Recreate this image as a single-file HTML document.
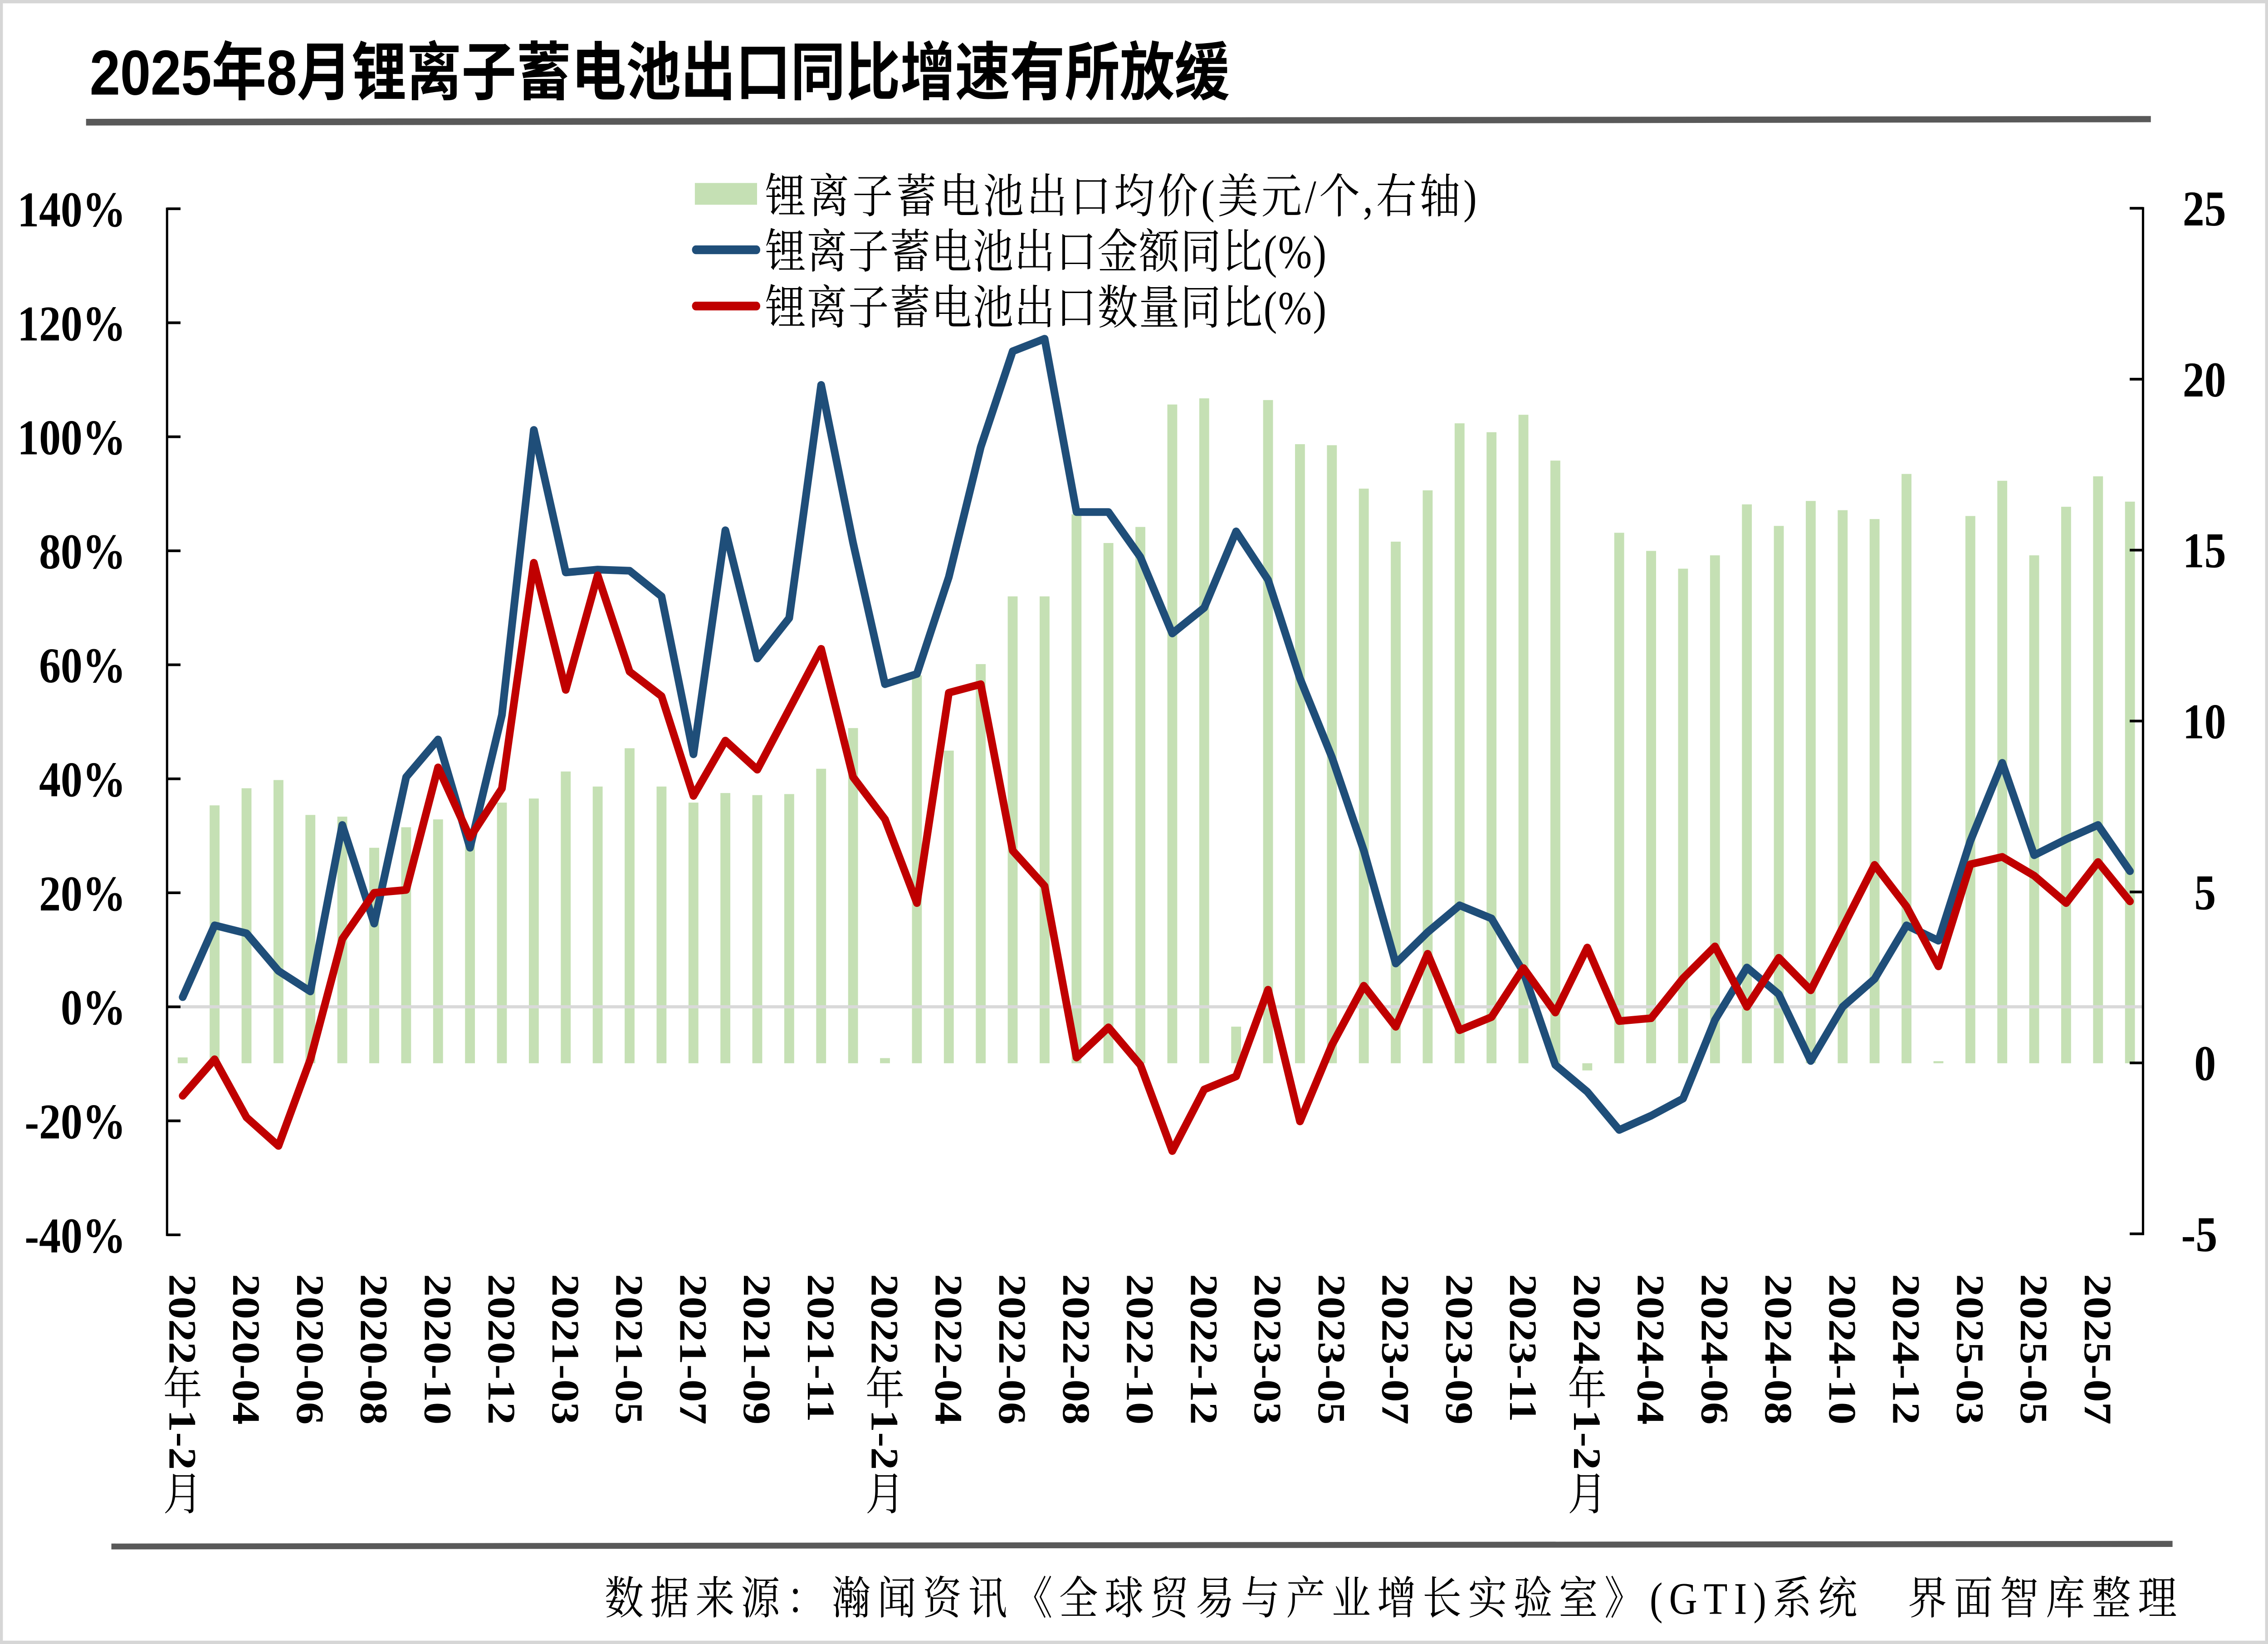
<!DOCTYPE html>
<html><head><meta charset="utf-8">
<style>
html,body{margin:0;padding:0;width:100%;height:100%;overflow:hidden;background:#fff;}
svg{display:block;position:fixed;left:0;top:0;width:100vw;height:100vh;}
</style></head><body>
<svg viewBox="0 0 1568 982" preserveAspectRatio="none" xmlns="http://www.w3.org/2000/svg">
<rect x="0" y="0" width="1568" height="982" fill="#fff"/>
<rect x="1" y="1" width="1566" height="980" fill="none" stroke="#d6d6d6" stroke-width="2"/>

<!-- title -->
<text x="62" y="56.5" font-family="'Liberation Sans','Noto Sans CJK SC',sans-serif" font-weight="bold" font-size="38" textLength="788" lengthAdjust="spacing" fill="#000">2025年8月锂离子蓄电池出口同比增速有所放缓</text>
<polygon points="59.5,71 1487,69.3 1487,73 59.5,75" fill="#595959"/>

<!-- bars -->
<g transform="translate(126.3,635.1) scale(22.07,-20.43)" fill="#C5E0B4">
<rect x="-0.155" y="0" width="0.31" height="0.17"/>
<rect x="0.845" y="0" width="0.31" height="7.54"/>
<rect x="1.845" y="0" width="0.31" height="8.04"/>
<rect x="2.845" y="0" width="0.31" height="8.28"/>
<rect x="3.845" y="0" width="0.31" height="7.26"/>
<rect x="4.845" y="0" width="0.31" height="7.21"/>
<rect x="5.845" y="0" width="0.31" height="6.30"/>
<rect x="6.845" y="0" width="0.31" height="6.90"/>
<rect x="7.845" y="0" width="0.31" height="7.13"/>
<rect x="8.845" y="0" width="0.31" height="6.5"/>
<rect x="9.845" y="0" width="0.31" height="7.62"/>
<rect x="10.845" y="0" width="0.31" height="7.74"/>
<rect x="11.845" y="0" width="0.31" height="8.53"/>
<rect x="12.845" y="0" width="0.31" height="8.09"/>
<rect x="13.845" y="0" width="0.31" height="9.21"/>
<rect x="14.845" y="0" width="0.31" height="8.09"/>
<rect x="15.845" y="0" width="0.31" height="7.62"/>
<rect x="16.845" y="0" width="0.31" height="7.90"/>
<rect x="17.845" y="0" width="0.31" height="7.84"/>
<rect x="18.845" y="0" width="0.31" height="7.87"/>
<rect x="19.845" y="0" width="0.31" height="8.61"/>
<rect x="20.845" y="0" width="0.31" height="9.80"/>
<rect x="21.845" y="0" width="0.31" height="0.15"/>
<rect x="22.845" y="0" width="0.31" height="11.34"/>
<rect x="23.845" y="0" width="0.31" height="9.14"/>
<rect x="24.845" y="0" width="0.31" height="11.67"/>
<rect x="25.845" y="0" width="0.31" height="13.65"/>
<rect x="26.845" y="0" width="0.31" height="13.65"/>
<rect x="27.845" y="0" width="0.31" height="16.05"/>
<rect x="28.845" y="0" width="0.31" height="15.21"/>
<rect x="29.845" y="0" width="0.31" height="15.68"/>
<rect x="30.845" y="0" width="0.31" height="19.26"/>
<rect x="31.845" y="0" width="0.31" height="19.44"/>
<rect x="32.845" y="0" width="0.31" height="1.07"/>
<rect x="33.845" y="0" width="0.31" height="19.39"/>
<rect x="34.845" y="0" width="0.31" height="18.10"/>
<rect x="35.845" y="0" width="0.31" height="18.07"/>
<rect x="36.845" y="0" width="0.31" height="16.80"/>
<rect x="37.845" y="0" width="0.31" height="15.25"/>
<rect x="38.845" y="0" width="0.31" height="16.75"/>
<rect x="39.845" y="0" width="0.31" height="18.71"/>
<rect x="40.845" y="0" width="0.31" height="18.45"/>
<rect x="41.845" y="0" width="0.31" height="18.96"/>
<rect x="42.845" y="0" width="0.31" height="17.62"/>
<rect x="43.845" y="-0.21" width="0.31" height="0.21"/>
<rect x="44.845" y="0" width="0.31" height="15.51"/>
<rect x="45.845" y="0" width="0.31" height="14.98"/>
<rect x="46.845" y="0" width="0.31" height="14.46"/>
<rect x="47.845" y="0" width="0.31" height="14.85"/>
<rect x="48.845" y="0" width="0.31" height="16.34"/>
<rect x="49.845" y="0" width="0.31" height="15.71"/>
<rect x="50.845" y="0" width="0.31" height="16.44"/>
<rect x="51.845" y="0" width="0.31" height="16.17"/>
<rect x="52.845" y="0" width="0.31" height="15.91"/>
<rect x="53.845" y="0" width="0.31" height="17.23"/>
<rect x="54.845" y="0" width="0.31" height="0.06"/>
<rect x="55.845" y="0" width="0.31" height="16.00"/>
<rect x="56.845" y="0" width="0.31" height="17.03"/>
<rect x="57.845" y="0" width="0.31" height="14.85"/>
<rect x="58.845" y="0" width="0.31" height="16.27"/>
<rect x="59.845" y="0" width="0.31" height="17.16"/>
<rect x="60.845" y="0" width="0.31" height="16.42"/>
</g>

<!-- zero line -->
<line x1="115.5" y1="601.4" x2="1481.6" y2="601.4" stroke="#D9D9D9" stroke-width="1.9"/>

<!-- axes -->
<g stroke="#000" stroke-width="1.6" fill="none">
<line x1="115.5" y1="124" x2="115.5" y2="738.3"/>
<line x1="115.5" y1="124.7" x2="124.8" y2="124.7"/>
<line x1="115.5" y1="192.8" x2="124.8" y2="192.8"/>
<line x1="115.5" y1="260.9" x2="124.8" y2="260.9"/>
<line x1="115.5" y1="329.0" x2="124.8" y2="329.0"/>
<line x1="115.5" y1="397.1" x2="124.8" y2="397.1"/>
<line x1="115.5" y1="465.2" x2="124.8" y2="465.2"/>
<line x1="115.5" y1="533.3" x2="124.8" y2="533.3"/>
<line x1="115.5" y1="601.4" x2="124.8" y2="601.4"/>
<line x1="115.5" y1="669.5" x2="124.8" y2="669.5"/>
<line x1="115.5" y1="737.6" x2="124.8" y2="737.6"/>
<line x1="1481.6" y1="123.7" x2="1481.6" y2="737.8"/>
<line x1="1472.4" y1="124.4" x2="1481.6" y2="124.4"/>
<line x1="1472.4" y1="226.5" x2="1481.6" y2="226.5"/>
<line x1="1472.4" y1="328.6" x2="1481.6" y2="328.6"/>
<line x1="1472.4" y1="430.7" x2="1481.6" y2="430.7"/>
<line x1="1472.4" y1="532.8" x2="1481.6" y2="532.8"/>
<line x1="1472.4" y1="634.9" x2="1481.6" y2="634.9"/>
<line x1="1472.4" y1="737.0" x2="1481.6" y2="737.0"/>
</g>

<!-- lines -->
<g transform="translate(126.3,601.4) scale(22.07,-3.405)" fill="none" stroke-linejoin="round" stroke-linecap="round">
<polyline vector-effect="non-scaling-stroke" stroke="#1F4E79" stroke-width="17" points="0,1.7 1,14.3 2,12.9 3,6.3 4,2.7 5,31.9 6,14.6 7,40.3 8,46.9 9,27.9 10,51.2 11,101.2 12,76.2 13,76.7 14,76.5 15,72 16,44.3 17,83.6 18,61.1 19,68.2 20,109.1 21,81.4 22,56.6 23,58.4 24,75.4 25,98.2 26,115 27,117.2 28,86.8 29,86.8 30,78.9 31,65.5 32,70 33,83.4 34,74.9 35,57.6 36,43.8 37,27.4 38,7.6 39,13.1 40,17.8 41,15.5 42,6.1 43,-10.2 44,-14.9 45,-21.6 46,-19.1 47,-16.1 48,-2.3 49,6.9 50,2.2 51,-9.5 52,0 53,4.9 54,14.3 55,11.6 56,29.1 57,42.8 58,26.6 59,29.4 60,31.9 61,23.8"/>
<polyline vector-effect="non-scaling-stroke" stroke="#C00000" stroke-width="17" points="0,-15.6 1,-9.2 2,-19.4 3,-24.4 4,-9.2 5,11.9 6,20 7,20.5 8,42 9,29.7 10,38.3 11,77.9 12,55.6 13,75.7 14,58.8 15,54.5 16,37 17,46.7 18,41.6 19,52.2 20,62.8 21,40.3 22,32.9 23,18.2 24,55.1 25,56.6 26,27.4 27,21.2 28,-8.9 29,-3.6 30,-10.2 31,-25.3 32,-14.5 33,-12.2 34,3 35,-20.1 36,-6.7 37,3.7 38,-3.5 39,9.3 40,-4.1 41,-1.8 42,6.8 43,-1 44,10.4 45,-2.5 46,-2 47,5 48,10.6 49,0 50,8.6 51,2.9 52,13.9 53,24.9 54,17.6 55,7.1 56,25 57,26.3 58,23 59,18.2 60,25.4 61,18.5"/>
</g>

<!-- left axis labels -->
<g font-family="'Liberation Serif',serif" font-weight="bold" font-size="30" fill="#000" text-anchor="end">
<text x="87" y="135.2">140%</text>
<text x="87" y="203.3">120%</text>
<text x="87" y="271.4">100%</text>
<text x="87" y="339.5">80%</text>
<text x="87" y="407.6">60%</text>
<text x="87" y="475.7">40%</text>
<text x="87" y="543.8">20%</text>
<text x="87" y="611.9">0%</text>
<text x="87" y="680.0">-20%</text>
<text x="87" y="748.1">-40%</text>
</g>
<!-- right axis labels -->
<g font-family="'Liberation Serif',serif" font-weight="bold" font-size="30" fill="#000">
<text x="1509" y="134.7">25</text>
<text x="1509" y="236.8">20</text>
<text x="1509" y="338.9">15</text>
<text x="1509" y="441.0">10</text>
<text x="1517" y="543.1">5</text>
<text x="1517" y="645.2">0</text>
<text x="1508" y="747.3">-5</text>
</g>

<!-- x axis labels -->
<g font-family="'Liberation Serif',serif" font-weight="bold" font-size="27" fill="#000">
<g transform="translate(126.3,0)"><text transform="translate(-9.2,761) rotate(90)">2022</text><text x="0" y="838.8" text-anchor="middle" font-weight="normal" font-family="'Noto Serif CJK SC',serif">年</text><text transform="translate(-9.2,842) rotate(90)">1-2</text><text x="0" y="901.8" text-anchor="middle" font-weight="normal" font-family="'Noto Serif CJK SC',serif">月</text></g>
<g transform="translate(170.44,0)"><text transform="translate(-9.2,761) rotate(90)">2020-04</text></g>
<g transform="translate(214.58,0)"><text transform="translate(-9.2,761) rotate(90)">2020-06</text></g>
<g transform="translate(258.72,0)"><text transform="translate(-9.2,761) rotate(90)">2020-08</text></g>
<g transform="translate(302.86,0)"><text transform="translate(-9.2,761) rotate(90)">2020-10</text></g>
<g transform="translate(347.00,0)"><text transform="translate(-9.2,761) rotate(90)">2020-12</text></g>
<g transform="translate(391.14,0)"><text transform="translate(-9.2,761) rotate(90)">2021-03</text></g>
<g transform="translate(435.28,0)"><text transform="translate(-9.2,761) rotate(90)">2021-05</text></g>
<g transform="translate(479.42,0)"><text transform="translate(-9.2,761) rotate(90)">2021-07</text></g>
<g transform="translate(523.56,0)"><text transform="translate(-9.2,761) rotate(90)">2021-09</text></g>
<g transform="translate(567.70,0)"><text transform="translate(-9.2,761) rotate(90)">2021-11</text></g>
<g transform="translate(611.84,0)"><text transform="translate(-9.2,761) rotate(90)">2022</text><text x="0" y="838.8" text-anchor="middle" font-weight="normal" font-family="'Noto Serif CJK SC',serif">年</text><text transform="translate(-9.2,842) rotate(90)">1-2</text><text x="0" y="901.8" text-anchor="middle" font-weight="normal" font-family="'Noto Serif CJK SC',serif">月</text></g>
<g transform="translate(655.98,0)"><text transform="translate(-9.2,761) rotate(90)">2022-04</text></g>
<g transform="translate(700.12,0)"><text transform="translate(-9.2,761) rotate(90)">2022-06</text></g>
<g transform="translate(744.26,0)"><text transform="translate(-9.2,761) rotate(90)">2022-08</text></g>
<g transform="translate(788.40,0)"><text transform="translate(-9.2,761) rotate(90)">2022-10</text></g>
<g transform="translate(832.54,0)"><text transform="translate(-9.2,761) rotate(90)">2022-12</text></g>
<g transform="translate(876.68,0)"><text transform="translate(-9.2,761) rotate(90)">2023-03</text></g>
<g transform="translate(920.82,0)"><text transform="translate(-9.2,761) rotate(90)">2023-05</text></g>
<g transform="translate(964.96,0)"><text transform="translate(-9.2,761) rotate(90)">2023-07</text></g>
<g transform="translate(1009.10,0)"><text transform="translate(-9.2,761) rotate(90)">2023-09</text></g>
<g transform="translate(1053.24,0)"><text transform="translate(-9.2,761) rotate(90)">2023-11</text></g>
<g transform="translate(1097.38,0)"><text transform="translate(-9.2,761) rotate(90)">2024</text><text x="0" y="838.8" text-anchor="middle" font-weight="normal" font-family="'Noto Serif CJK SC',serif">年</text><text transform="translate(-9.2,842) rotate(90)">1-2</text><text x="0" y="901.8" text-anchor="middle" font-weight="normal" font-family="'Noto Serif CJK SC',serif">月</text></g>
<g transform="translate(1141.52,0)"><text transform="translate(-9.2,761) rotate(90)">2024-04</text></g>
<g transform="translate(1185.66,0)"><text transform="translate(-9.2,761) rotate(90)">2024-06</text></g>
<g transform="translate(1229.80,0)"><text transform="translate(-9.2,761) rotate(90)">2024-08</text></g>
<g transform="translate(1273.94,0)"><text transform="translate(-9.2,761) rotate(90)">2024-10</text></g>
<g transform="translate(1318.08,0)"><text transform="translate(-9.2,761) rotate(90)">2024-12</text></g>
<g transform="translate(1362.22,0)"><text transform="translate(-9.2,761) rotate(90)">2025-03</text></g>
<g transform="translate(1406.36,0)"><text transform="translate(-9.2,761) rotate(90)">2025-05</text></g>
<g transform="translate(1450.50,0)"><text transform="translate(-9.2,761) rotate(90)">2025-07</text></g>
</g>

<!-- legend -->
<rect x="480.4" y="109.3" width="43" height="13" fill="#C5E0B4"/>
<line x1="481" y1="149.2" x2="523" y2="149.2" stroke="#1F4E79" stroke-width="5.2" stroke-linecap="round"/>
<line x1="481" y1="182.8" x2="523" y2="182.8" stroke="#C00000" stroke-width="5.2" stroke-linecap="round"/>
<g font-family="'Liberation Serif','Noto Serif CJK SC',serif" font-size="28" fill="#000">
<text x="529" y="127" textLength="492" lengthAdjust="spacing">锂离子蓄电池出口均价(美元/个,右轴)</text>
<text x="529" y="160" textLength="388" lengthAdjust="spacing">锂离子蓄电池出口金额同比(%)</text>
<text x="529" y="193.5" textLength="388" lengthAdjust="spacing">锂离子蓄电池出口数量同比(%)</text>
</g>

<!-- footer -->
<polygon points="77,922 1502,920.4 1502,924 77,925.5" fill="#595959"/>
<g font-family="'Liberation Serif','Noto Serif CJK SC',serif" font-size="27" fill="#000">
<text x="418" y="964" textLength="866" lengthAdjust="spacing">数据来源：瀚闻资讯《全球贸易与产业增长实验室》(GTI)系统</text>
<text x="1319" y="964" textLength="186" lengthAdjust="spacing">界面智库整理</text>
</g>
</svg>
</body></html>
